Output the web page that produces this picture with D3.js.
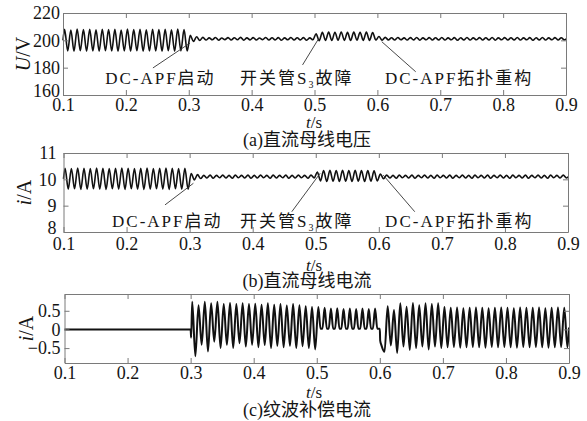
<!DOCTYPE html>
<html>
<head>
<meta charset="utf-8">
<script src="https://cdn.jsdelivr.net/npm/d3@7"></script>
<style>
  body { margin: 0; background: #fff; }
  text { font-family: "Liberation Serif", "Times New Roman", "Noto Sans CJK SC", serif; fill: #151515; }
</style>
</head>
<body>
<div id="chart"></div>
<script>
// ---------------- data ----------------
var timeTicks = [0.1, 0.2, 0.3, 0.4, 0.5, 0.6, 0.7, 0.8, 0.9];

// the ripple is 100 Hz: one peak or trough every 5 ms, first one at 0.1025 s
var halfCycle = 0.005;
var gridStart = 0.1025;

// (a) DC bus voltage U/V, peaks and troughs
var uExtrema = [
  208, 192.3, 207.6, 192, 208.2, 192.4, 207.8, 192.1, 208, 192.3,
  207.7, 192, 208.1, 192.4, 207.8, 192.2, 208, 192, 207.6, 192.3,
  208.2, 192.1, 207.8, 192.4, 208, 192, 207.7, 192.3, 208.1, 192.2,
  207.9, 192, 208, 192.4, 207.7, 192.1, 208.2, 192.3, 207.8, 192.2,
  203.6, 199.2, 202.6, 199.9, 202.2, 200.2, 201.8, 200.4, 202.1, 200.1,
  201.7, 200.5, 202.0, 200.2, 201.9, 200.4, 202.2, 200.1, 201.8, 200.3,
  202.0, 200.2, 201.7, 200.5, 202.1, 200.2, 201.9, 200.3, 202.0, 200.1,
  201.8, 200.4, 202.1, 200.2, 201.9, 200.3, 202.0, 200.1, 201.8, 200.4,
  204.8, 199.8, 205.8, 200, 206, 199.9, 205.9, 200.1, 206.1, 200,
  205.8, 199.9, 206, 200.1, 205.9, 200, 206, 200, 205.7, 200.2,
  202.8, 200.1, 202.2, 200.3, 201.9, 200.2, 202.1, 200.4, 201.8, 200.2,
  202.0, 200.3, 202.1, 200.1, 201.8, 200.4, 202.0, 200.2, 201.9, 200.3,
  202.1, 200.2, 201.8, 200.4, 202.0, 200.1, 201.9, 200.3, 202.1, 200.2,
  201.8, 200.4, 202.0, 200.2, 201.9, 200.3, 202.1, 200.1, 201.8, 200.4,
  202.0, 200.2, 201.9, 200.3, 202.1, 200.2, 201.8, 200.4, 202.0, 200.1,
  201.9, 200.3, 202.1, 200.2, 201.8, 200.4, 202.0, 200.2, 201.9, 200.3
];
var uExtra = [[0.1, 200], [0.9, 201.1]];
var uTicks = [160, 180, 200, 220];

// (b) DC bus current i/A, peaks and troughs
var iExtrema = [
  10.42, 9.63, 10.41, 9.64, 10.43, 9.62, 10.42, 9.63, 10.41, 9.64,
  10.43, 9.63, 10.42, 9.62, 10.41, 9.64, 10.42, 9.63, 10.43, 9.62,
  10.42, 9.64, 10.41, 9.63, 10.42, 9.62, 10.43, 9.63, 10.41, 9.64,
  10.42, 9.63, 10.43, 9.62, 10.42, 9.64, 10.41, 9.63, 10.42, 9.63,
  10.22, 9.98, 10.18, 10.03, 10.15, 10.05, 10.16, 10.04, 10.15, 10.06,
  10.16, 10.05, 10.15, 10.04, 10.16, 10.06, 10.15, 10.05, 10.16, 10.04,
  10.15, 10.05, 10.16, 10.06, 10.15, 10.04, 10.16, 10.05, 10.15, 10.06,
  10.16, 10.04, 10.15, 10.05, 10.16, 10.06, 10.15, 10.04, 10.16, 10.05,
  10.28, 9.94, 10.33, 9.92, 10.34, 9.93, 10.33, 9.92, 10.34, 9.93,
  10.33, 9.92, 10.34, 9.93, 10.33, 9.92, 10.33, 9.93, 10.32, 9.94,
  10.2, 10.02, 10.16, 10.05, 10.15, 10.04, 10.16, 10.06, 10.15, 10.05,
  10.16, 10.04, 10.15, 10.06, 10.16, 10.05, 10.15, 10.04, 10.16, 10.06,
  10.15, 10.05, 10.16, 10.04, 10.15, 10.06, 10.16, 10.05, 10.15, 10.04,
  10.16, 10.06, 10.15, 10.05, 10.16, 10.04, 10.15, 10.06, 10.16, 10.05,
  10.15, 10.04, 10.16, 10.06, 10.15, 10.05, 10.16, 10.04, 10.15, 10.06,
  10.16, 10.05, 10.15, 10.04, 10.16, 10.06, 10.15, 10.05, 10.16, 10.05
];
var iExtra = [[0.1, 10.02], [0.9, 10.1]];
var iTicks = [8, 9, 10, 11];

// (c) ripple compensating current i/A, peaks and troughs
var cExtrema = [
  0, 0, 0, 0, 0, 0, 0, 0, 0, 0,
  0, 0, 0, 0, 0, 0, 0, 0, 0, 0,
  0, 0, 0, 0, 0, 0, 0, 0, 0, 0,
  0, 0, 0, 0, 0, 0, 0, 0, 0, 0,
  0.74, -0.72, 0.65, -0.41, 0.74, -0.59, 0.70, -0.33, 0.74, -0.5,
  0.68, -0.41, 0.71, -0.5, 0.68, -0.37, 0.70, -0.46, 0.68, -0.41,
  0.69, -0.48, 0.66, -0.42, 0.70, -0.5, 0.66, -0.44, 0.68, -0.48,
  0.64, -0.44, 0.68, -0.5, 0.65, -0.45, 0.62, -0.5, 0.6, -0.54,
  0.6, 0.02, 0.58, 0.02, 0.56, 0.02, 0.57, 0.02, 0.55, 0.02,
  0.56, 0.02, 0.55, 0.02, 0.56, 0.02, 0.55, 0.02, 0.56, 0.02,
  -0.42, -0.6, 0.62, -0.43, 0.52, -0.63, 0.70, -0.46, 0.61, -0.55,
  0.71, -0.5, 0.65, -0.46, 0.70, -0.54, 0.68, -0.46, 0.70, -0.5,
  0.6, -0.48, 0.58, -0.47, 0.59, -0.49, 0.57, -0.48, 0.58, -0.47,
  0.59, -0.48, 0.58, -0.49, 0.57, -0.47, 0.58, -0.48, 0.59, -0.47,
  0.58, -0.48, 0.57, -0.49, 0.59, -0.47, 0.58, -0.48, 0.58, -0.47,
  0.59, -0.48, 0.57, -0.49, 0.58, -0.48, 0.59, -0.47, 0.58, -0.48
];
var cExtra = [[0.1, 0], [0.3, 0], [0.3008, -0.22], [0.6, 0.02], [0.6006, -0.3], [0.9, 0.05]];
// between 0.5 s and 0.6 s the current is clipped, its troughs sit flat on this level
var cClipLevel = 0.02;
var cTicks = [-0.5, 0, 0.5];

// event annotations: [text time, text value] and leader lines [from t, from v, to t, to v]
var eventLabels = ['DC-APF启动', '开关管S3故障', 'DC-APF拓扑重构'];
var eventTextA = [[0.167, 168], [0.3815, 168], [0.612, 168]];
var eventLinesA = [[0.243, 179.8, 0.302, 198], [0.481, 182, 0.506, 200.8], [0.661, 177, 0.607, 199]];
var eventTextB = [[0.177, 8.19], [0.380, 8.19], [0.61, 8.19]];
var eventLinesB = [[0.261, 9.03, 0.306, 9.85], [0.462, 8.77, 0.507, 10.23], [0.657, 8.77, 0.607, 10.16]];

// ---------------- drawing ----------------
var chart_width = 587;
var chart_height = 421;

var svg = d3.select('#chart')
  .append('svg')
  .attr('width', chart_width)
  .attr('height', chart_height);

function buildSeries(extrema, extra, clipLevel) {
  var pts = extrema.map(function(v, i) {
    return [gridStart + i * halfCycle, v];
  });
  if (clipLevel !== undefined) {
    // widen each clipped trough into a short flat bottom
    pts.slice().forEach(function(p) {
      if (p[0] > 0.5 && p[0] < 0.6 && p[1] === clipLevel) {
        pts.push([p[0] - 0.0015, clipLevel], [p[0] + 0.0015, clipLevel]);
      }
    });
  }
  return pts.concat(extra).sort(function(a, b) { return a[0] - b[0]; });
}

var panels = [
  { series: buildSeries(uExtrema, uExtra), domain: [160, 220], ticks: uTicks, fmt: d3.format('d'),
    left: 63, right: 566, top: 13, bottom: 95, xPad: 3, yPad: 3, lineW: 1.6, lowNudge: -4,
    ylab: ['U', '/V'], ylabX: 23, caption: '(a)直流母线电压', tsY: 128, capY: 146,
    notes: eventTextA, lines: eventLinesA },
  { series: buildSeries(iExtrema, iExtra), domain: [8, 11], ticks: iTicks, fmt: d3.format('d'),
    left: 63.5, right: 568, top: 153, bottom: 232, xPad: 5, yPad: 7, lineW: 1.6, lowNudge: -4,
    ylab: ['i', '/A'], ylabX: 24, caption: '(b)直流母线电流', tsY: 271, capY: 287,
    notes: eventTextB, lines: eventLinesB },
  { series: buildSeries(cExtrema, cExtra, cClipLevel), domain: [-0.9, 0.95], ticks: cTicks,
    fmt: function(d) { return d === 0 ? '0' : d3.format('.1f')(d).replace('-', '−'); },
    left: 64.5, right: 569, top: 294, bottom: 363, xPad: 3, yPad: 4, lineW: 2, lowNudge: 0,
    ylab: ['i', '/A'], ylabX: 26, caption: '(c)纹波补偿电流', tsY: 398, capY: 416,
    notes: null, lines: null }
];

panels.forEach(function(p) {
  var x_scale = d3.scaleLinear().domain([0.1, 0.9]).range([p.left, p.right]);
  var y_scale = d3.scaleLinear().domain(p.domain).range([p.bottom, p.top]);
  var g = svg.append('g');

  // waveform
  var line = d3.line()
    .x(function(d) { return x_scale(d[0]); })
    .y(function(d) { return y_scale(d[1]); })
    .curve(d3.curveMonotoneX);

  g.append('path')
    .datum(p.series)
    .attr('d', line)
    .attr('fill', 'none')
    .attr('stroke', '#111')
    .attr('stroke-width', p.lineW)
    .attr('stroke-linejoin', 'round');

  // box with inward ticks on all four sides
  var bottomAxis = d3.axisBottom(x_scale).tickValues(timeTicks).tickSize(-5).tickSizeOuter(0)
    .tickPadding(p.xPad).tickFormat(d3.format('.1f'));
  var topAxis = d3.axisTop(x_scale).tickValues(timeTicks).tickSize(-5).tickSizeOuter(0).tickFormat('');
  var leftAxis = d3.axisLeft(y_scale).tickValues(p.ticks).tickSize(-5).tickSizeOuter(0)
    .tickPadding(p.yPad).tickFormat(p.fmt);
  var rightAxis = d3.axisRight(y_scale).tickValues(p.ticks).tickSize(-5).tickSizeOuter(0).tickFormat('');

  [[bottomAxis, 'translate(0,' + p.bottom + ')'], [topAxis, 'translate(0,' + p.top + ')'],
   [leftAxis, 'translate(' + p.left + ',0)'], [rightAxis, 'translate(' + p.right + ',0)']]
    .forEach(function(a) {
      var ax = g.append('g').attr('transform', a[1]).call(a[0]);
      ax.selectAll('path, line').attr('stroke', '#7a7a7a').attr('stroke-width', 1);
      ax.selectAll('text').attr('font-size', 18).attr('fill', '#151515')
        .attr('font-family', '"Liberation Serif", serif');
      if (a[0] === leftAxis) {
        // the lowest y label sits a little above its tick, clear of the time labels
        ax.selectAll('.tick')
          .filter(function(d) { return d === p.ticks[0]; })
          .select('text')
          .attr('y', p.lowNudge);
      }
    });

  // y title, rotated
  var yt = g.append('text')
    .attr('transform', 'translate(' + p.ylabX + ',' + ((p.top + p.bottom) / 2) + ') rotate(-90)')
    .attr('text-anchor', 'middle')
    .attr('dy', '0.35em')
    .attr('font-size', 20);
  yt.append('tspan').attr('font-style', 'italic').text(p.ylab[0]);
  yt.append('tspan').text(p.ylab[1]);

  // t/s and caption
  var ts = g.append('text')
    .attr('x', 314).attr('y', p.tsY)
    .attr('text-anchor', 'middle')
    .attr('font-size', 17);
  ts.append('tspan').attr('font-style', 'italic').text('t');
  ts.append('tspan').text('/s');

  g.append('text')
    .attr('x', 307).attr('y', p.capY)
    .attr('text-anchor', 'middle')
    .attr('font-size', 18)
    .text(p.caption);

  // event annotations
  if (p.notes) {
    g.selectAll('line.leader')
      .data(p.lines)
      .enter()
      .append('line')
      .attr('class', 'leader')
      .attr('x1', function(d) { return x_scale(d[0]); })
      .attr('y1', function(d) { return y_scale(d[1]); })
      .attr('x2', function(d) { return x_scale(d[2]); })
      .attr('y2', function(d) { return y_scale(d[3]); })
      .attr('stroke', '#333')
      .attr('stroke-width', 0.9);

    p.notes.forEach(function(n, k) {
      var label = eventLabels[k];
      var t = g.append('text')
        .attr('x', x_scale(n[0]))
        .attr('y', y_scale(n[1]))
        .attr('font-size', 17)
        .style('letter-spacing', '2px');
      var m = label.match(/^(.*S)3(.*)$/);
      if (m) {
        t.append('tspan').text(m[1]);
        t.append('tspan').attr('font-size', 10).attr('dy', 4).text('3');
        t.append('tspan').attr('dy', -4).text(m[2]);
      } else {
        t.text(label);
      }
    });
  }
});
</script>
</body>
</html>
